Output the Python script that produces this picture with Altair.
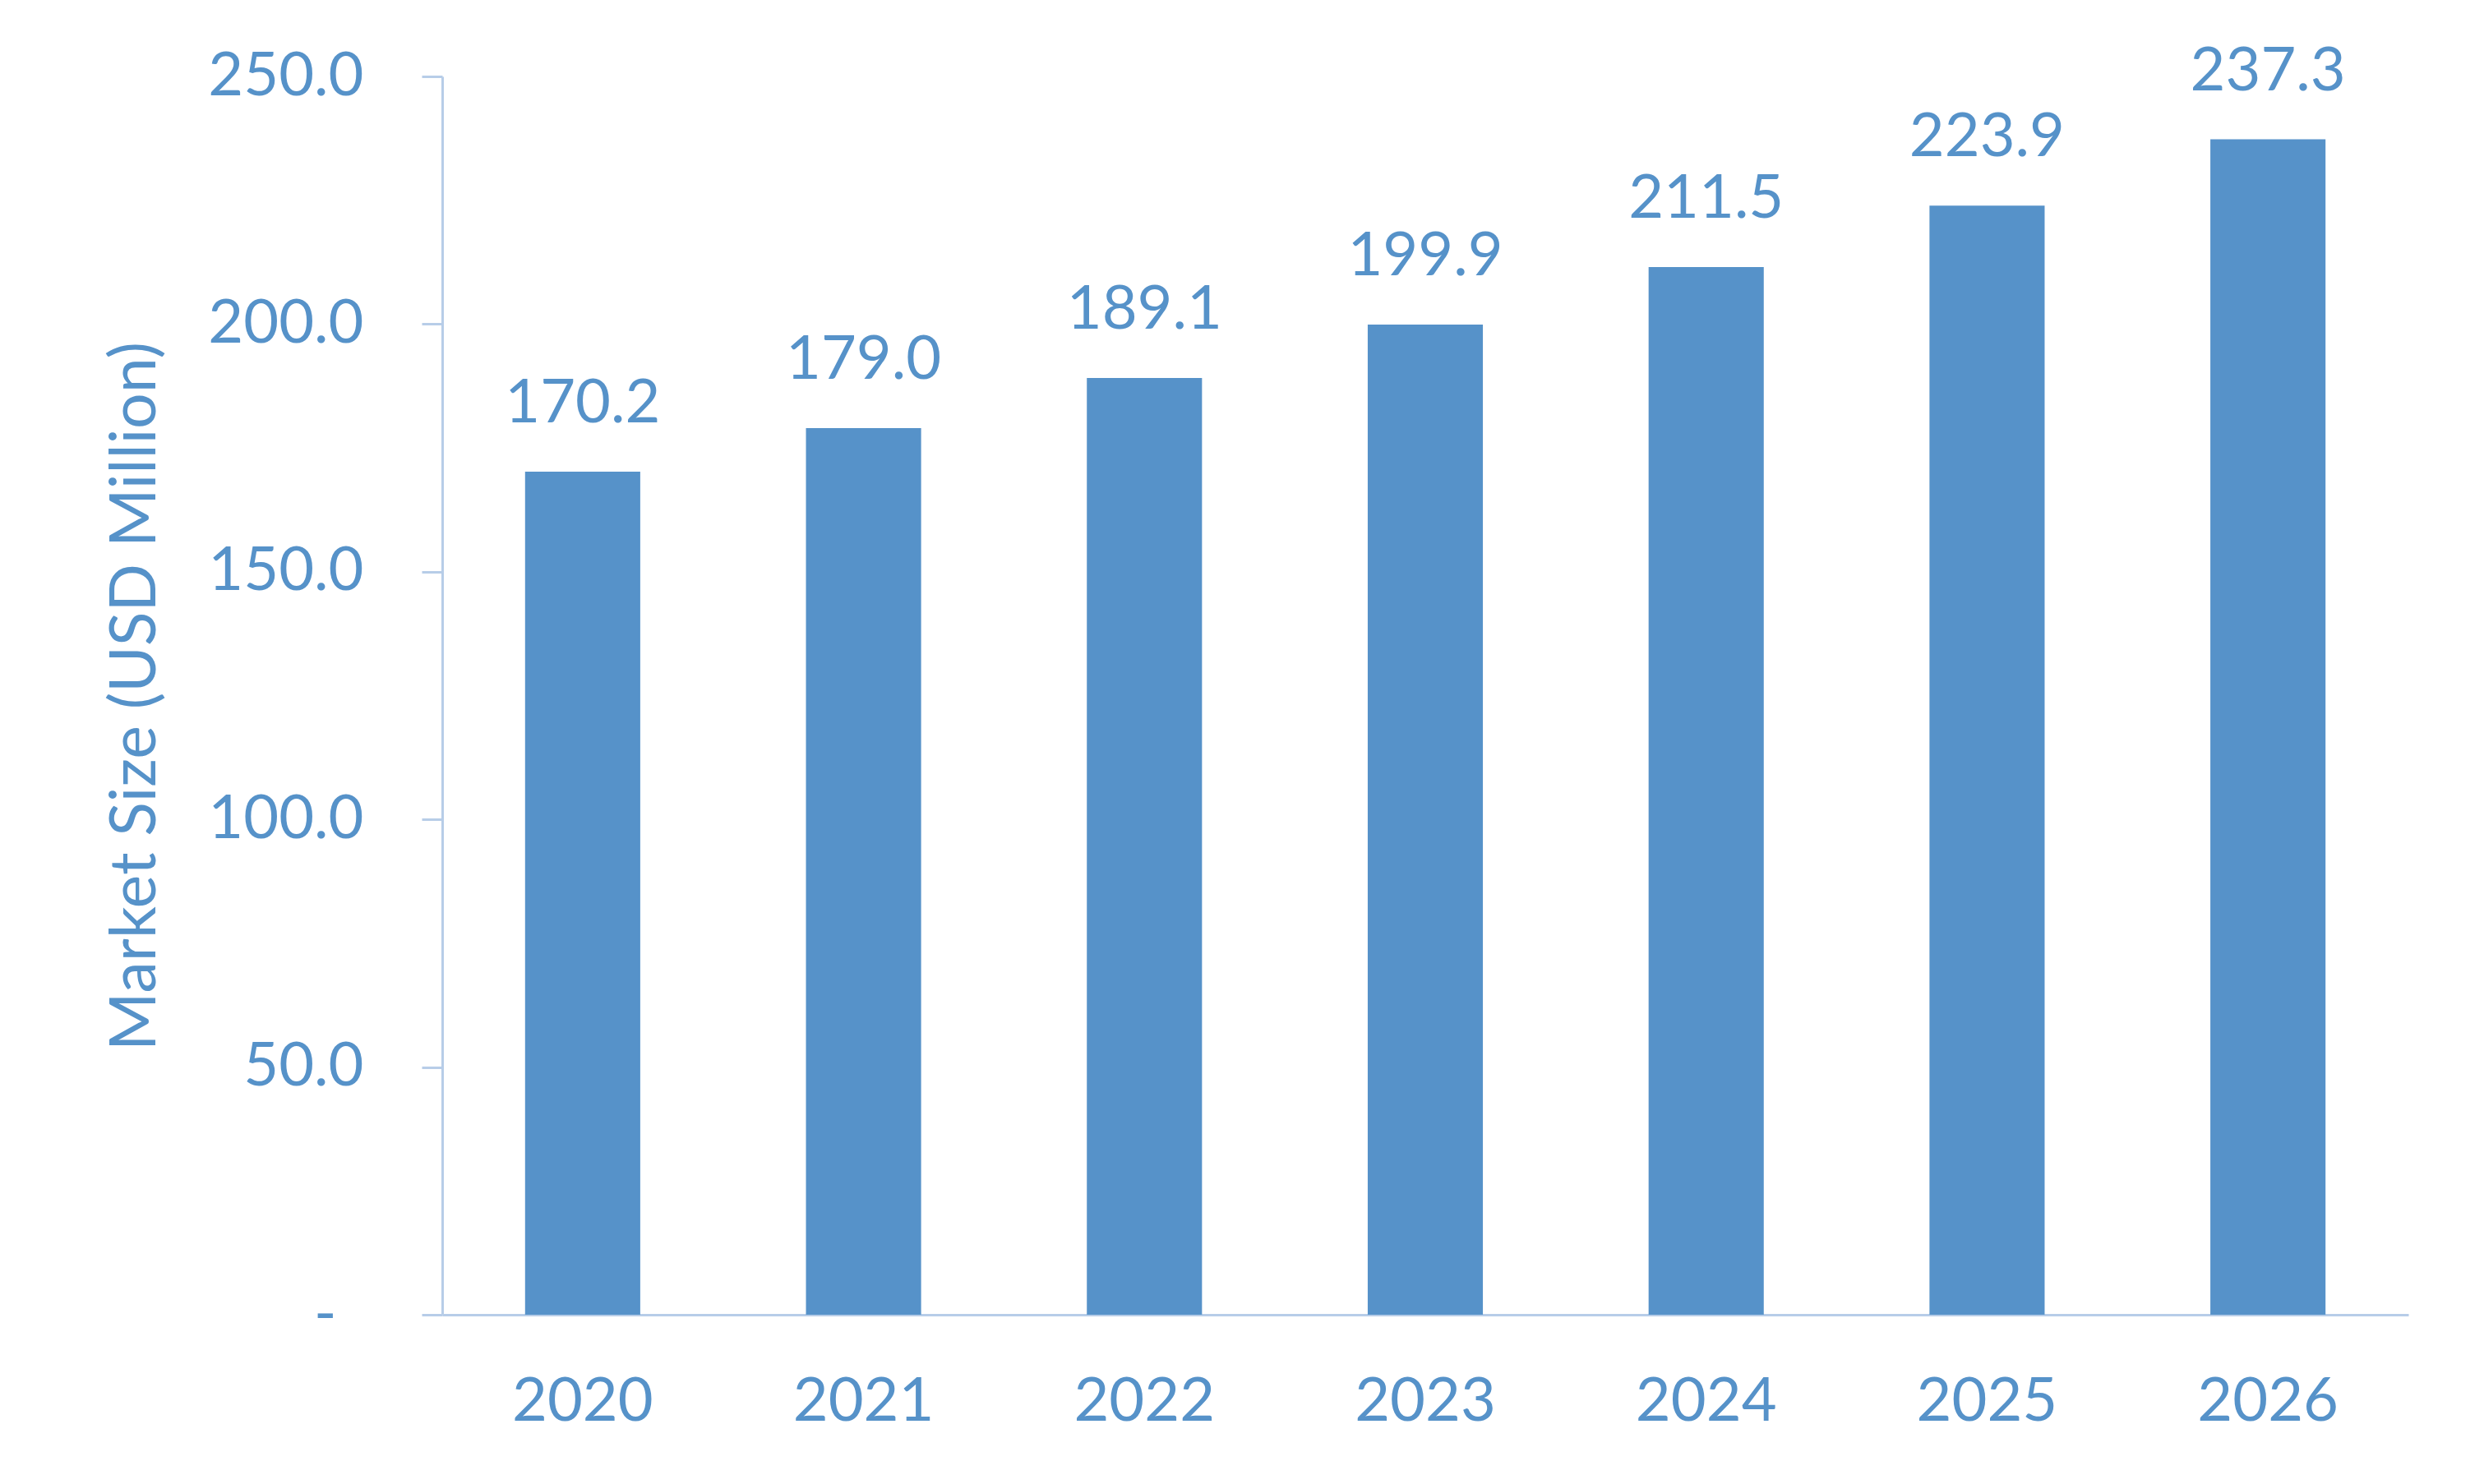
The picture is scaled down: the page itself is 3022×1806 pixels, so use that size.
import altair as alt
import pandas as pd

years = ["2020", "2021", "2022", "2023", "2024", "2025", "2026"]
values = [170.2, 179.0, 189.1, 199.9, 211.5, 223.9, 237.3]
y_ticks = [0, 50, 100, 150, 200, 250]

df = pd.DataFrame({"year": years, "value": values})

BLUE = "#5692C9"
AXIS = "#B7CDE8"
FONT = "Lato"
FS = 74

base = alt.Chart(df)

bars = base.mark_bar(color=BLUE).encode(
    x=alt.X(
        "year:N",
        sort=years,
        scale=alt.Scale(paddingInner=0.59, paddingOuter=0.295),
        axis=alt.Axis(
            title=None,
            labelAngle=0,
            labelFont=FONT,
            labelFontSize=FS,
            labelColor=BLUE,
            labelLimit=0,
            ticks=False,
            domainColor=AXIS,
            domainWidth=3,
            labelBaseline="middle",
            labelPadding=106,
        ),
    ),
    y=alt.Y(
        "value:Q",
        scale=alt.Scale(domain=[0, 250], nice=False),
        axis=alt.Axis(
            title="Market Size (USD Million)",
            values=y_ticks,
            grid=False,
            labelExpr="datum.value == 0 ? '-' : format(datum.value, '.1f')",
            labelFont=FONT,
            labelFontSize=FS,
            labelColor=BLUE,
            labelLimit=0,
            labelPadding={"condition": {"test": "datum.value === 0", "value": 104}, "value": 71},
            tickSize=25,
            tickColor=AXIS,
            tickWidth=3,
            domainColor=AXIS,
            domainWidth=3,
            titleFont=FONT,
            titleFontSize=77,
            titleFontWeight="normal",
            titleColor=BLUE,
            titleAngle=270,
            titleAlign="center",
            titleBaseline="middle",
            titleX=-373,
            titleY=754,
            titleLimit=0,
        ),
    ),
)

labels = base.mark_text(
    color=BLUE, font=FONT, fontSize=FS, baseline="alphabetic", dy=-60
).encode(
    x=alt.X("year:N", sort=years),
    y=alt.Y("value:Q"),
    text=alt.Text("value:Q", format=".1f"),
)

chart = (
    alt.layer(bars, labels)
    .properties(
        width=2392,
        height=1507,
        autosize=alt.AutoSizeParams(type="none"),
        padding={"left": 530, "top": 85, "right": 84, "bottom": 196},
        view=alt.ViewBackground(stroke="transparent", strokeWidth=0, strokeOpacity=0),
    )
    .configure_view(strokeWidth=0, stroke="transparent", strokeOpacity=0)
    .configure(background="white")
)

chart.save("out.html", embed_options={"renderer": "svg", "actions": False})
